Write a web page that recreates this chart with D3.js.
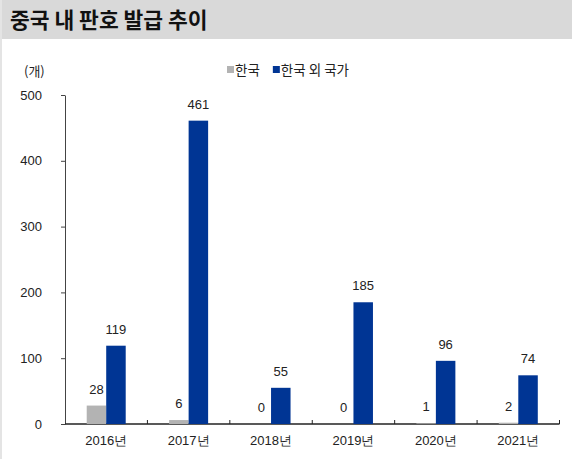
<!DOCTYPE html>
<html>
<head>
<meta charset="utf-8">
<script src="https://cdn.jsdelivr.net/npm/d3@7"></script>
<style>
  body { margin: 0; background: #fff; }
  text { font-family: "Liberation Sans", Arial, sans-serif; }
</style>
</head>
<body>
<svg id="chart" width="572" height="459"></svg>
<script>
const years = ['2016년', '2017년', '2018년', '2019년', '2020년', '2021년']
const korea = [28, 6, 0, 0, 1, 2]
const others = [119, 461, 55, 185, 96, 74]
const yTicks = [0, 100, 200, 300, 400, 500]

const svg = d3.select('#chart')
const margin = {left: 65, top: 95, right: 13, bottom: 35}
const width = 559.5 - margin.left
const height = 424 - margin.top

// title band
svg.append('rect').attr('x', 0).attr('y', 0).attr('width', 572).attr('height', 39).attr('fill', '#d9d9d9')
svg.append('rect').attr('x', 0).attr('y', 0).attr('width', 2).attr('height', 459).attr('fill', '#e4e4e4')
svg.append('text')
  .attr('x', 10).attr('y', 28)
  .style('font-family', '"Noto Sans CJK KR", sans-serif')
  .style('font-size', '21.5px').style('font-weight', 'bold')
  .attr('fill', '#111')
  .text('중국 내 판호 발급 추이')

const chart = svg.append('g').attr('transform', `translate(${margin.left}, ${margin.top})`)

const x = d3.scaleBand().domain(years).range([0, width])
const y = d3.scaleLinear().domain([0, 500]).range([height, 0])
const barW = 19.5

chart.append('g')
  .call(d3.axisLeft(y).tickValues(yTicks).tickSize(4).tickSizeOuter(0))
  .call(g => g.select('.domain').attr('stroke', '#444'))
  .call(g => g.selectAll('.tick line').attr('stroke', '#444'))
  .call(g => g.selectAll('.tick text').attr('x', -23).attr('fill', '#222')
    .style('font-size', '13px').attr('text-anchor', 'end'))

// x axis with ticks at category boundaries pointing up
const xAxis = chart.append('g').attr('transform', `translate(0, ${height})`)
xAxis.append('line').attr('x1', 0).attr('x2', width).attr('stroke', '#222').attr('stroke-width', 1.3)
xAxis.selectAll('.bt')
  .data(years.map((d, i) => i + 1))
  .enter().append('line')
    .attr('x1', i => i * x.step()).attr('x2', i => i * x.step())
    .attr('y1', 0).attr('y2', -4)
    .attr('stroke', '#222')
xAxis.selectAll('.lbl')
  .data(years)
  .enter().append('text')
    .attr('x', d => x(d) + x.bandwidth() / 2)
    .attr('y', 21)
    .attr('text-anchor', 'middle')
    .style('font-size', '13px')
    .attr('fill', '#222')
    .text(d => d)

const series = [
  {name: '한국', values: korea, color: '#b3b3b3', off: -barW},
  {name: '한국 외 국가', values: others, color: '#003594', off: 0}
]

series.forEach(s => {
  const g = chart.append('g')
  g.selectAll('rect')
    .data(years)
    .enter().append('rect')
      .attr('x', (d) => x(d) + x.bandwidth() / 2 + s.off)
      .attr('y', (d, i) => y(s.values[i]))
      .attr('width', barW)
      .attr('height', (d, i) => height - y(s.values[i]))
      .attr('fill', s.color)
  g.selectAll('text')
    .data(years)
    .enter().append('text')
      .attr('x', (d) => x(d) + x.bandwidth() / 2 + s.off + barW / 2)
      .attr('y', (d, i) => y(s.values[i]) - 12)
      .attr('text-anchor', 'middle')
      .style('font-size', '13px')
      .attr('fill', '#222')
      .text((d, i) => s.values[i])
})

// unit label
svg.append('text')
  .attr('x', 24).attr('y', 76)
  .style('font-family', '"Noto Sans CJK KR", sans-serif')
  .style('font-size', '13px').attr('fill', '#222')
  .text('(개)')

// legend
const legend = svg.append('g').attr('transform', 'translate(227, 63)')
let lx = 0
series.forEach(s => {
  legend.append('rect').attr('x', lx).attr('y', 3).attr('width', 7).attr('height', 7).attr('fill', s.color)
  const t = legend.append('text').attr('x', lx + 8).attr('y', 12)
    .style('font-family', '"Noto Sans CJK KR", sans-serif')
    .style('font-size', '13.5px').attr('fill', '#222')
    .text(s.name)
  lx += 8 + t.node().getComputedTextLength() + 13
})
</script>
</body>
</html>
